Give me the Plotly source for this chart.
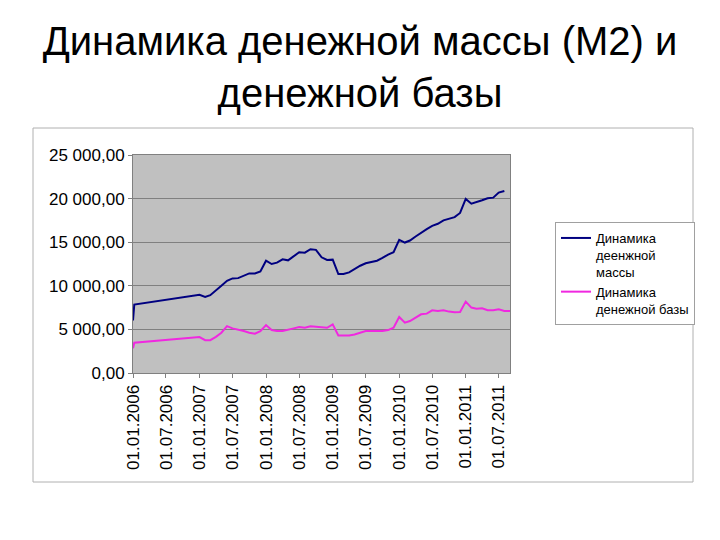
import plotly.graph_objects as go

# ---- data ----
dates_m2 = ["2006-01-01", "2006-01-08"] + [f"{y}-{m:02d}-01" for y in range(2007, 2012) for m in range(1, 13)][:56]
m2_values = [6032, 7850,
             8961, 8730, 8920, 9420, 10000, 10580, 10850, 10880, 11150, 11420, 11420, 11650,
             12880, 12500, 12650, 13040, 12920, 13420, 13850, 13800, 14190, 14120, 13270, 12960,
             13000, 11350, 11350, 11540, 11920, 12300, 12580, 12690, 12880, 13190, 13580, 13850,
             15270, 14960, 15190, 15650, 16110, 16500, 16880, 17110, 17500, 17730, 17880, 18350,
             19960, 19420, 19580, 19810, 20040, 20110, 20690, 20880]

dates_mb = ["2006-01-01", "2006-01-08"] + [f"{y}-{m:02d}-01" for y in range(2007, 2012) for m in range(1, 13)][:57]
mb_values = [2850, 3480,
             4115, 3770, 3770, 4150, 4620, 5380, 5120, 5000, 4810, 4620, 4500, 4810,
             5500, 4920, 4810, 4810, 4920, 5120, 5270, 5190, 5350, 5270, 5190, 5190,
             5580, 4310, 4310, 4310, 4420, 4620, 4810, 4810, 4810, 4810, 4920, 5190,
             6420, 5770, 5960, 6350, 6730, 6810, 7190, 7120, 7190, 7040, 6960, 7000,
             8190, 7500, 7380, 7420, 7190, 7190, 7310, 7120, 7120]

tick_dates = ["2006-01-01", "2006-07-01", "2007-01-01", "2007-07-01", "2008-01-01", "2008-07-01",
              "2009-01-01", "2009-07-01", "2010-01-01", "2010-07-01", "2011-01-01", "2011-07-01"]
tick_labels = ["01.01.2006", "01.07.2006", "01.01.2007", "01.07.2007", "01.01.2008", "01.07.2008",
               "01.01.2009", "01.07.2009", "01.01.2010", "01.07.2010", "01.01.2011", "01.07.2011"]

name_m2 = "Динамика<br>деенжной<br>массы"
name_mb = "Динамика<br>денежной базы"
title_text = "Динамика денежной массы (М2) и<br>денежной базы"

# ---- figure ----
fig = go.Figure()
fig.add_trace(go.Scatter(x=dates_m2, y=m2_values, mode="lines", name=name_m2,
                         line=dict(color="#000080", width=2)))
fig.add_trace(go.Scatter(x=dates_mb, y=mb_values, mode="lines", name=name_mb,
                         line=dict(color="#F028E0", width=2)))

# page body has an 8px margin; figure sized so it ends at the window edge
OFF = 8
W, H = 720 - OFF, 540 - OFF
L, T = 133 - OFF, 155 - OFF
R = W - (510 - OFF)
B = H - (373 - OFF)
pw, ph = W - L - R, H - T - B

def px_x(x):
    return (x - OFF - L) / pw

def px_y(y):
    return (H - B - (y - OFF)) / ph

fig.update_layout(
    width=W, height=H,
    margin=dict(l=L, r=R, t=T, b=B, autoexpand=False),
    paper_bgcolor="white",
    plot_bgcolor="#C0C0C0",
    separators=", ",
    font=dict(family="Liberation Sans, Arial, sans-serif", color="#000000"),
    title=dict(text=title_text, x=(360 - OFF) / W, xref="container", xanchor="center",
               y=1 - 47 / H, yref="container", yanchor="top",
               font=dict(size=40, color="#000000")),
    showlegend=True,
    legend=dict(x=px_x(555), y=px_y(222), xanchor="left", yanchor="top",
                bgcolor="white", bordercolor="#A0A0A0", borderwidth=1,
                font=dict(size=13, color="#000000"), valign="top",
                tracegroupgap=0, itemwidth=30),
    shapes=[dict(type="rect", xref="paper", yref="paper",
                 x0=px_x(33), x1=px_x(693), y0=px_y(482), y1=px_y(128),
                 line=dict(color="#B0B0B0", width=1), layer="below")],
)

fig.update_xaxes(type="date", range=["2006-01-01", "2011-09-01"], automargin=False,
                 tickvals=tick_dates, ticktext=tick_labels, tickangle=-90,
                 tickfont=dict(size=17, color="#000000"),
                 showgrid=False, showline=True, linecolor="#808080", linewidth=1,
                 mirror=True, ticks="outside", ticklen=4, tickcolor="#808080")
fig.update_yaxes(range=[0, 25000], dtick=5000, tickformat=",.2f", automargin=False,
                 tickfont=dict(size=17, color="#000000"),
                 showgrid=True, gridcolor="#808080", gridwidth=1,
                 showline=True, linecolor="#808080", linewidth=1, mirror=True,
                 ticks="outside", ticklen=4, tickcolor="#808080", zeroline=False)

fig.write_html("out.html")
